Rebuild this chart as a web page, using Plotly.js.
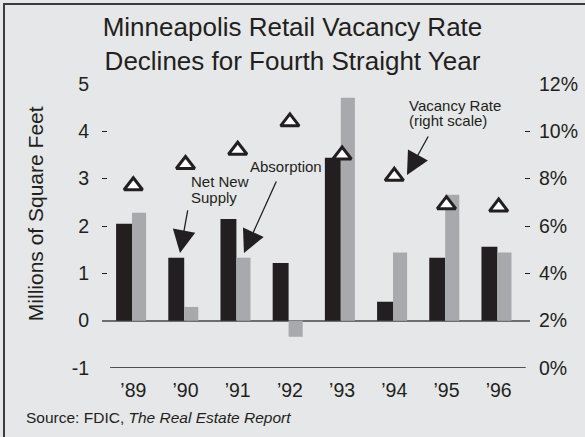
<!DOCTYPE html>
<html>
<head>
<meta charset="utf-8">
<script src="https://cdn.plot.ly/plotly-3.0.1.min.js"></script>
<style>
  html, body { margin: 0; padding: 0; background: #e6e7e8; overflow: hidden; }
  #wrap { position: relative; width: 585px; height: 437px; overflow: hidden; }
  #plot { position: absolute; left: 0; top: 0; width: 585px; height: 437px; }
  #frame { position: absolute; left: 3px; top: 3px; width: 640px; height: 480px;
           border: 2.5px solid #3c3c3e; pointer-events: none; }
</style>
</head>
<body>
<div id="wrap"><div id="plot"></div><div id="frame"></div></div>
<script>
const years = ["\u201989", "\u201990", "\u201991", "\u201992", "\u201993", "\u201994", "\u201995", "\u201996"];
const netNewSupply = [2.05, 1.33, 2.15, 1.22, 3.44, 0.40, 1.33, 1.56];
const absorption = [2.28, 0.29, 1.33, -0.34, 4.71, 1.44, 2.66, 1.44];
const vacancyRate = [7.7, 8.6, 9.2, 10.4, 9.0, 8.1, 6.9, 6.8];

const leftTicks = [-1, 0, 1, 2, 3, 4, 5];
const leftTickText = leftTicks.map(v => String(v));
const rightTicks = [0, 2, 4, 6, 8, 10, 12];
const rightTickText = rightTicks.map(v => v + "%");

const dark = "#231f20";
const font = "'Liberation Sans', Arial, Helvetica, sans-serif";

const traces = [
  { type: "bar", name: "Net New Supply", x: years, y: netNewSupply,
    marker: { color: dark }, offset: -0.33, width: 0.305, hoverinfo: "skip" },
  { type: "bar", name: "Absorption", x: years, y: absorption,
    marker: { color: "#a7a9ac" }, offset: -0.025, width: 0.27, hoverinfo: "skip" },
  { type: "scatter", mode: "markers", name: "Vacancy Rate", x: years, y: vacancyRate,
    yaxis: "y2", cliponaxis: false,
    marker: { symbol: "triangle-up", size: 16, color: "#ffffff", line: { color: dark, width: 3 } } },
  // empty helper traces so the tick-dash axes are drawn
  { type: "scatter", mode: "markers", x: [], y: [], yaxis: "y3", hoverinfo: "skip" },
  { type: "scatter", mode: "markers", x: [], y: [], yaxis: "y4", hoverinfo: "skip" }
];

const annText = (text, x, y) => ({ text, x, y, xref: "x", yref: "y", xanchor: "left", yanchor: "middle",
  showarrow: false, font: { family: font, size: 15, color: dark } });
const annArrow = (x, y, ax, ay) => ({ text: "", x, y, xref: "x", yref: "y", ax, ay,
  showarrow: true, arrowhead: 2, arrowsize: 3.5, arrowwidth: 1.3, arrowcolor: dark, standoff: 0 });

const layout = {
  width: 585, height: 437,
  margin: { l: 102, r: 55, t: 84, b: 69, pad: 0 },
  paper_bgcolor: "#e6e7e8", plot_bgcolor: "#e6e7e8",
  showlegend: false,
  barmode: "overlay",
  font: { family: font, color: dark },
  title: { text: "Minneapolis Retail Vacancy Rate<br>Declines for Fourth Straight Year",
    x: 0.5, xref: "container", xanchor: "center", y: 0.918, yref: "container", yanchor: "top",
    font: { family: font, size: 26, color: dark } },
  xaxis: { type: "category", range: [-0.6, 7.6], showgrid: false, zeroline: false, showline: false,
    ticks: "", tickfont: { family: font, size: 19.5, color: dark }, ticklabelstandoff: 8, fixedrange: true },
  yaxis: { range: [-1, 5], tickvals: leftTicks, ticktext: leftTickText, showgrid: false, zeroline: true,
    zerolinecolor: "#6d6e71", zerolinewidth: 2, showline: false, ticks: "",
    tickfont: { family: font, size: 19.5, color: dark }, ticklabelstandoff: 12 },
  yaxis2: { overlaying: "y", side: "right", range: [0, 12], tickvals: rightTicks, ticktext: rightTickText,
    showgrid: false, zeroline: false, showline: false, ticks: "",
    tickfont: { family: font, size: 19.5, color: dark }, ticklabelstandoff: 8 },
  yaxis3: { overlaying: "y", side: "left", range: [-1, 5], tickvals: [1, 2, 3, 4, 5],
    ticks: "inside", ticklen: 5, tickwidth: 1, tickcolor: dark, showticklabels: false,
    showgrid: false, zeroline: false, showline: false },
  yaxis4: { overlaying: "y", side: "right", range: [0, 12], tickvals: [4, 6, 8, 10, 12],
    ticks: "inside", ticklen: 5, tickwidth: 1, tickcolor: dark, showticklabels: false,
    showgrid: false, zeroline: false, showline: false },
  shapes: [
    { type: "line", xref: "paper", yref: "y", x0: 0.019, x1: 0.99, y0: -1, y1: -1,
      line: { color: dark, width: 1.5 } }
  ],
  annotations: [
    { text: "Millions of Square Feet", xref: "paper", yref: "y", x: -0.1565, y: 2.25,
      xanchor: "center", yanchor: "middle", textangle: -90, showarrow: false,
      font: { family: font, size: 21, color: dark } },
    annText("Net New", 1.066, 2.93),
    annText("Supply", 1.066, 2.61),
    annText("Absorption", 2.196, 3.247),
    annText("Vacancy Rate", 5.243, 4.536),
    annText("(right scale)", 5.243, 4.22),
    annArrow(0.894, 1.43, 8, -44),
    annArrow(2.12, 1.43, 33, -73),
    annArrow(5.243, 3.078, 22, -40),
    { text: "Source: FDIC, <i>The Real Estate Report</i>", xref: "paper", yref: "paper",
      x: -0.182, y: -0.176, xanchor: "left", yanchor: "middle", showarrow: false,
      font: { family: font, size: 15.5, color: dark } }
  ]
};

Plotly.newPlot("plot", traces, layout, { displayModeBar: false, staticPlot: true });
</script>
</body>
</html>
